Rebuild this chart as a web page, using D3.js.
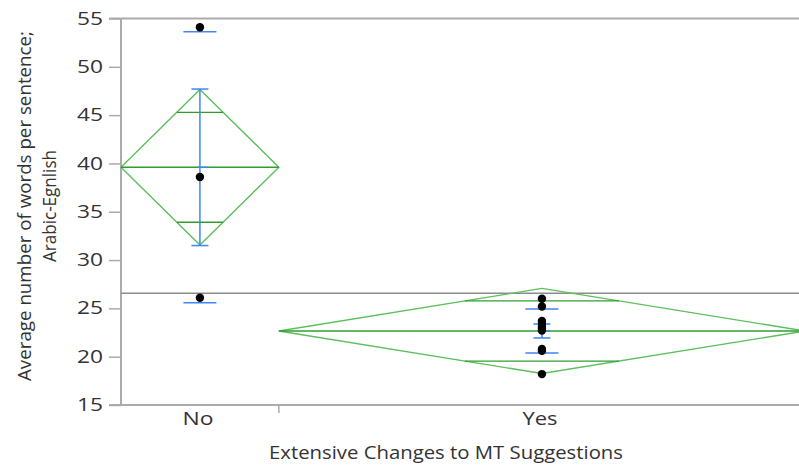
<!DOCTYPE html>
<html>
<head>
<meta charset="utf-8">
<script src="https://cdn.jsdelivr.net/npm/d3@7"></script>
<style>
  html, body { margin: 0; padding: 0; background: #fff; }
  svg { display: block; font-family: "Open Sans", "Noto Sans", sans-serif; }
</style>
</head>
<body>
<svg id="chart" width="799" height="466"></svg>
<script>
// Groups on the x axis
const categories = ["No", "Yes"];
// Average words per sentence for each document, by group
const valuesNo = [54.1, 38.6, 26.1];
const valuesYes = [26.0, 25.2, 23.7, 23.4, 23.1, 22.9, 22.7, 20.8, 20.6, 18.2];
const yTicks = [15, 20, 25, 30, 35, 40, 45, 50, 55];
// two-sided 95% t quantile for the pooled error (df = 11)
const tCrit = 2.201;

const groups = [
  { name: categories[0], values: valuesNo },
  { name: categories[1], values: valuesYes }
];

const svg = d3.select("#chart");
const W = 799, H = 466;
const plotLeft = 121, plotRight = 805, plotTop = 18.5, plotBottom = 405;
const fontSize = "17.5px";

const y = d3.scaleLinear().domain([15, 55]).range([plotBottom, plotTop]);
const total = d3.sum(groups, g => g.values.length);
// category widths proportional to group size
const x = d3.scaleLinear().domain([0, total]).range([plotLeft, plotRight]);

let cum = 0;
groups.forEach(g => {
  g.n = g.values.length;
  g.x0 = x(cum);
  cum += g.n;
  g.x1 = x(cum);
  g.cx = (g.x0 + g.x1) / 2;
  g.mean = d3.mean(g.values);
  g.sd = d3.deviation(g.values);
  g.se = g.sd / Math.sqrt(g.n);
});
const all = groups.flatMap(g => g.values);
const grandMean = d3.mean(all);
const sse = d3.sum(groups, g => d3.sum(g.values, v => (v - g.mean) ** 2));
const pooledSd = Math.sqrt(sse / (all.length - groups.length));
groups.forEach(g => {
  g.ci = tCrit * pooledSd / Math.sqrt(g.n);
  g.ov = g.ci * Math.SQRT2 / 2;
});

const plot = svg.append("g");
svg.append("clipPath").attr("id", "clip")
  .append("rect").attr("x", 0).attr("y", 0).attr("width", W).attr("height", H);

const frame = "#ababab";
const ink = "#333";

// top border
plot.append("line").attr("x1", 109).attr("x2", W).attr("y1", y(55)).attr("y2", y(55))
  .attr("stroke", frame).attr("stroke-width", 2);
// left axis
const yAxis = plot.append("g").attr("transform", `translate(${plotLeft},0)`)
  .call(d3.axisLeft(y).tickValues(yTicks).tickSize(12).tickPadding(6));
yAxis.select(".domain").attr("stroke", frame).attr("stroke-width", 2).attr("d", `M0,${y(55)}V${y(15)}`);
yAxis.selectAll(".tick line").attr("stroke", frame).attr("stroke-width", 1.5);
yAxis.selectAll(".tick text").attr("fill", ink).style("font-size", fontSize)
  .style("font-family", "'Open Sans', 'Noto Sans', sans-serif")
  .attr("textLength", 26).attr("lengthAdjust", "spacingAndGlyphs");

// bottom axis
plot.append("line").attr("x1", 109).attr("x2", W).attr("y1", plotBottom).attr("y2", plotBottom)
  .attr("stroke", frame).attr("stroke-width", 2);
groups.slice(0, -1).forEach(g => {
  plot.append("line").attr("x1", g.x1).attr("x2", g.x1).attr("y1", plotBottom).attr("y2", plotBottom + 8)
    .attr("stroke", frame).attr("stroke-width", 1.5);
});
const labelWidth = { No: 31, Yes: 35 };
plot.selectAll(".xlab").data(groups).enter().append("text")
  .attr("x", g => g.cx - 2).attr("y", 425).attr("text-anchor", "middle")
  .attr("textLength", g => labelWidth[g.name]).attr("lengthAdjust", "spacingAndGlyphs")
  .attr("fill", ink).style("font-size", fontSize).text(g => g.name);

// grand mean line
plot.append("line").attr("x1", plotLeft).attr("x2", W).attr("y1", y(grandMean)).attr("y2", y(grandMean))
  .attr("stroke", "#8c8c8c").attr("stroke-width", 1.5);

const gClip = plot.append("g").attr("clip-path", "url(#clip)");
const green = "#5cbf5c", greenDark = "#2f9e2f", blue = "#3f86f0";

groups.forEach(g => {
  const half = (g.x1 - g.x0) / 2;
  // means diamond
  gClip.append("path")
    .attr("d", `M${g.x0},${y(g.mean)}L${g.cx},${y(g.mean + g.ci)}L${g.x1},${y(g.mean)}L${g.cx},${y(g.mean - g.ci)}Z`)
    .attr("fill", "none").attr("stroke", green).attr("stroke-width", 1.4);
  gClip.append("line").attr("x1", g.x0).attr("x2", g.x1).attr("y1", y(g.mean)).attr("y2", y(g.mean))
    .attr("stroke", greenDark).attr("stroke-width", 1.5);
  // overlap marks
  const w = half * (1 - g.ov / g.ci);
  [g.mean + g.ov, g.mean - g.ov].forEach(v => {
    gClip.append("line").attr("x1", g.cx - w).attr("x2", g.cx + w).attr("y1", y(v)).attr("y2", y(v))
      .attr("stroke", greenDark).attr("stroke-width", 1.4);
  });
  // standard error bar
  gClip.append("line").attr("x1", g.cx).attr("x2", g.cx).attr("y1", y(g.mean + g.se)).attr("y2", y(g.mean - g.se))
    .attr("stroke", blue).attr("stroke-width", 1.5);
  [g.mean + g.se, g.mean - g.se].forEach(v => {
    gClip.append("line").attr("x1", g.cx - 8.5).attr("x2", g.cx + 8.5).attr("y1", y(v)).attr("y2", y(v))
      .attr("stroke", blue).attr("stroke-width", 1.5);
  });
  gClip.append("line").attr("x1", g.cx - 3).attr("x2", g.cx + 8.5).attr("y1", y(g.mean)).attr("y2", y(g.mean))
    .attr("stroke", blue).attr("stroke-width", 1.3);
  // standard deviation lines
  [g.mean + g.sd, g.mean - g.sd].forEach(v => {
    gClip.append("line").attr("x1", g.cx - 16.5).attr("x2", g.cx + 16.5).attr("y1", y(v)).attr("y2", y(v))
      .attr("stroke", blue).attr("stroke-width", 1.5);
  });
  // points
  gClip.selectAll(null).data(g.values).enter().append("circle")
    .attr("cx", g.cx).attr("cy", v => y(v)).attr("r", 4.2).attr("fill", "#000");
});

// axis titles
svg.append("text").attr("x", 446).attr("y", 459).attr("text-anchor", "middle")
  .attr("textLength", 354).attr("lengthAdjust", "spacingAndGlyphs")
  .attr("fill", ink).style("font-size", fontSize).text("Extensive Changes to MT Suggestions");
const yt = svg.append("text").attr("transform", `translate(31,206) rotate(-90)`)
  .attr("text-anchor", "middle").attr("fill", ink).style("font-size", "18.5px");
yt.append("tspan").attr("x", 0).attr("dy", 0)
  .attr("textLength", 350).attr("lengthAdjust", "spacingAndGlyphs")
  .text("Average number of words per sentence;");
yt.append("tspan").attr("x", 0).attr("dy", 25)
  .attr("textLength", 112).attr("lengthAdjust", "spacingAndGlyphs")
  .text("Arabic-Egnlish");
</script>
</body>
</html>
